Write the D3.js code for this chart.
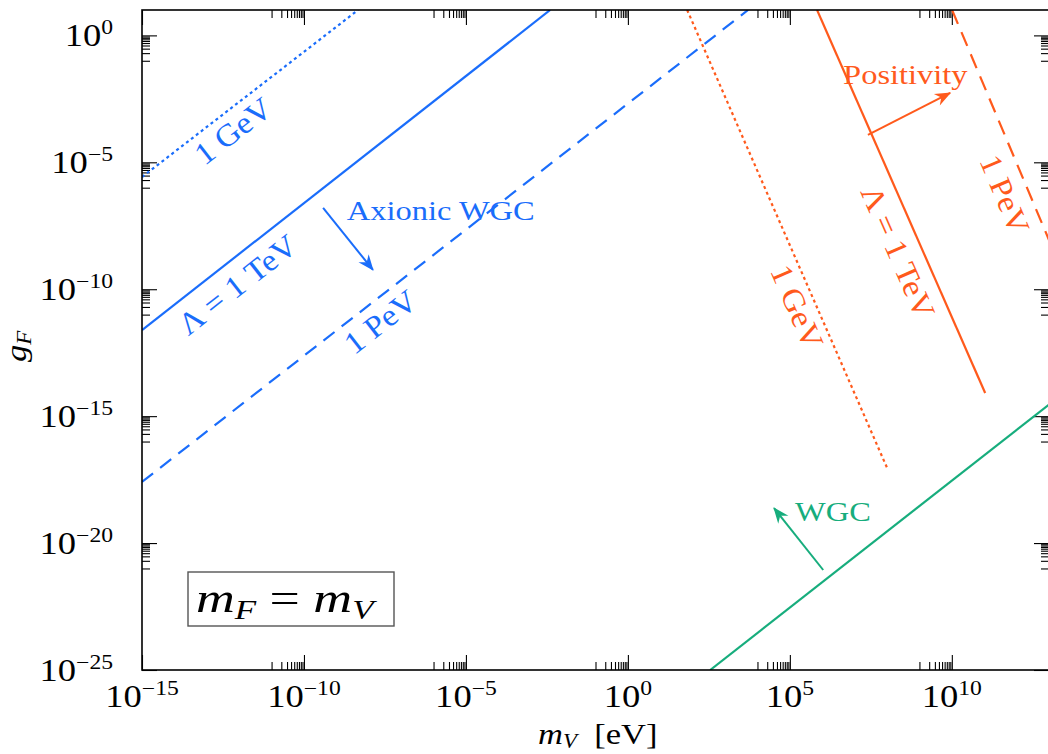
<!DOCTYPE html>
<html>
<head>
<meta charset="utf-8">
<script src="https://cdn.jsdelivr.net/npm/d3@7"></script>
<style>
  body { margin: 0; background: #fff; }
  text { font-family: "Liberation Serif", "DejaVu Serif", serif; }
</style>
</head>
<body>
<div id="chart"></div>
<script>
// axis ranges and tick exponents
var xDomain = [1e-15, 1e13];
var yDomain = [1e-25, 1e1];
var xTickExps = [-15, -10, -5, 0, 5, 10];
var yTickExps = [0, -5, -10, -15, -20, -25];

// bounds (endpoints in m_V [eV], g_F), straight lines on log-log axes
var axionicGeV = [[1e-15, 2.63e-6], [4.68e-9, 10]];
var axionicTeV = [[1e-15, 2.45e-12], [3.98e-3, 10]];
var axionicPeV = [[1e-15, 2.57e-18], [5.13e3, 10]];
var positivityGeV = [[67.6, 10], [1.07e8, 7.59e-18]];
var positivityTeV = [[6.92e5, 10], [1.07e11, 8.13e-15]];
var positivityPeV = [[1.02e10, 10], [1e13, 8.7e-9]];
var wgcLine = [[347, 1e-25], [1e13, 2.88e-15]];

// arrows showing the allowed side
var axionicArrow = [[3.9e-10, 1.6e-7], [1.35e-8, 5.75e-10]];
var positivityArrow = [[2.57e7, 1.2e-4], [8.9e9, 5.4e-3]];
var wgcArrow = [[1.07e6, 8.7e-22], [3.24e4, 2.4e-19]];

var blue = "#1a6dfb", orange = "#ff5a1c", green = "#17ad7d";

(function () {
var W = 1048, H = 754;
var pL = 142, pR = 1049, pT = 10, pB = 670;

var x = d3.scaleLog().domain(xDomain).range([pL, pR]);
var y = d3.scaleLog().domain(yDomain).range([pB, pT]);

var svg = d3.select("#chart").append("svg")
    .attr("width", W).attr("height", H);

var defs = svg.append("defs");
defs.append("clipPath").attr("id", "plot")
  .append("rect")
    .attr("x", pL).attr("y", pT)
    .attr("width", pR - pL).attr("height", pB - pT);

[["blue", blue], ["orange", orange], ["green", green]].forEach(function (c) {
  defs.append("marker")
      .attr("id", "arr-" + c[0])
      .attr("viewBox", "-16 -8 18 16")
      .attr("refX", 0).attr("refY", 0)
      .attr("markerWidth", 18).attr("markerHeight", 16)
      .attr("markerUnits", "userSpaceOnUse")
      .attr("orient", "auto")
    .append("path")
      .attr("d", "M1,0 L-15,-6.5 L-10,0 L-15,6.5 Z")
      .attr("fill", c[1]);
});

// minor ticks: k * 10^(e-1), k = 1..9
function minors(exps, dom) {
  var out = [];
  exps.forEach(function (e) {
    for (var k = 1; k <= 9; k++) {
      var v = k * Math.pow(10, e - 1);
      if (v >= dom[0] * 0.999 && v <= dom[1] * 1.001) out.push(v);
    }
  });
  return out;
}
var xMaj = xTickExps.map(function (e) { return Math.pow(10, e); });
var yMaj = yTickExps.map(function (e) { return Math.pow(10, e); });
var xMin = minors(xTickExps, xDomain);
var yMin = minors(yTickExps, yDomain);

function addAxis(axisFn, scale, vals, size, transform) {
  var g = svg.append("g")
      .attr("transform", transform)
      .call(axisFn(scale).tickValues(vals).tickSize(size).tickSizeOuter(0).tickFormat(""));
  g.select(".domain").remove();
  g.selectAll(".tick line").attr("stroke", "#000").attr("stroke-width", 1.1);
}
addAxis(d3.axisBottom, x, xMaj, -15, "translate(0," + pB + ")");
addAxis(d3.axisBottom, x, xMin, -8, "translate(0," + pB + ")");
addAxis(d3.axisTop, x, xMaj, -15, "translate(0," + pT + ")");
addAxis(d3.axisTop, x, xMin, -8, "translate(0," + pT + ")");
addAxis(d3.axisLeft, y, yMaj, -15, "translate(" + pL + ",0)");
addAxis(d3.axisLeft, y, yMin, -8, "translate(" + pL + ",0)");
addAxis(d3.axisRight, y, yMaj, -15, "translate(" + pR + ",0)");
addAxis(d3.axisRight, y, yMin, -8, "translate(" + pR + ",0)");

// power-of-ten tick labels
function powLabel(g, e, anchor) {
  var t = g.append("text").attr("text-anchor", anchor)
      .attr("font-size", 31).attr("fill", "#000");
  t.append("tspan").text("10");
  t.append("tspan").attr("dy", -12).attr("font-size", 20)
      .text(e < 0 ? "\u2212" + (-e) : String(e));
}
xTickExps.forEach(function (e) {
  var g = svg.append("g")
      .attr("transform", "translate(" + x(Math.pow(10, e)) + ",707) scale(1.18,1)");
  powLabel(g, e, "middle");
});
yTickExps.forEach(function (e) {
  var g = svg.append("g")
      .attr("transform", "translate(113," + (y(Math.pow(10, e)) + 10.5) + ") scale(1.18,1)");
  powLabel(g, e, "end");
});

// axis titles
var xt = svg.append("g").attr("transform", "translate(538,744) scale(1.15,1)")
  .append("text").attr("font-size", 30);
xt.append("tspan").attr("font-style", "italic").text("m");
xt.append("tspan").attr("font-style", "italic").attr("font-size", 20).attr("dy", 4).text("V");
xt.append("tspan").attr("dy", -4).text("\u2002[eV]");

var yt = svg.append("g").attr("transform", "translate(26,362) rotate(-90) scale(1.15,1)")
  .append("text").attr("font-size", 30);
yt.append("tspan").attr("font-style", "italic").text("g");
yt.append("tspan").attr("font-style", "italic").attr("font-size", 20).attr("dy", 5).text("F");

// curves
var plot = svg.append("g").attr("clip-path", "url(#plot)");
var line = d3.line().x(function (d) { return x(d[0]); }).y(function (d) { return y(d[1]); });

var curves = [
  { d: axionicGeV, c: blue, dash: "3,3.2" },
  { d: axionicTeV, c: blue, dash: null },
  { d: axionicPeV, c: blue, dash: "14,9" },
  { d: positivityGeV, c: orange, dash: "3,3.2" },
  { d: positivityTeV, c: orange, dash: null },
  { d: positivityPeV, c: orange, dash: "15,9" },
  { d: wgcLine, c: green, dash: null }
];
curves.forEach(function (k) {
  plot.append("path")
      .datum(k.d)
      .attr("d", line)
      .attr("fill", "none")
      .attr("stroke", k.c)
      .attr("stroke-width", 2.2)
      .attr("stroke-dasharray", k.dash);
});

// labels along lines: m on the line, offset below the text direction
function lineLabel(pts, m, txt, color, off) {
  var lx0 = Math.log10(pts[0][0]), lx1 = Math.log10(pts[1][0]);
  var ly0 = Math.log10(pts[0][1]), ly1 = Math.log10(pts[1][1]);
  var t = (Math.log10(m) - lx0) / (lx1 - lx0);
  var g = Math.pow(10, ly0 + t * (ly1 - ly0));
  var px = x(m), py = y(g);
  var dx = x(pts[1][0]) - x(pts[0][0]), dy = y(pts[1][1]) - y(pts[0][1]);
  if (dx < 0) { dx = -dx; dy = -dy; }
  var ang = Math.atan2(dy, dx);
  var cx = px - Math.sin(ang) * off, cy = py + Math.cos(ang) * off;
  svg.append("text")
      .attr("transform", "translate(" + cx + "," + cy + ") rotate(" + (ang * 180 / Math.PI) + ") scale(1.08,1)")
      .attr("text-anchor", "middle")
      .attr("dominant-baseline", "central")
      .attr("font-size", 31)
      .attr("fill", color)
      .text(txt);
}
lineLabel(axionicGeV, 2.8e-13, "1 GeV", blue, 19);
lineLabel(axionicTeV, 3.2e-13, "\u039B = 1 TeV", blue, 23);
lineLabel(axionicPeV, 9.5e-9, "1 PeV", blue, 20);
lineLabel(positivityGeV, 5.4e5, "1 GeV", orange, 18);
lineLabel(positivityTeV, 9.8e8, "\u039B = 1 TeV", orange, 23);
lineLabel(positivityPeV, 1.95e12, "1 PeV", orange, 23);

// arrows and their captions
[[axionicArrow, "blue", blue], [positivityArrow, "orange", orange], [wgcArrow, "green", green]]
  .forEach(function (a) {
    svg.append("path")
        .datum(a[0])
        .attr("d", line)
        .attr("stroke", a[2])
        .attr("stroke-width", 2)
        .attr("fill", "none")
        .attr("marker-end", "url(#arr-" + a[1] + ")");
  });

function caption(m, g, txt, color) {
  svg.append("g")
      .attr("transform", "translate(" + x(m) + "," + y(g) + ") scale(1.16,1)")
    .append("text")
      .attr("font-size", 28)
      .attr("fill", color)
      .text(txt);
}
caption(2.1e-9, 5.4e-8, "Axionic WGC", blue);
caption(4.4e6, 1.2e-2, "Positivity", orange);
caption(1.45e5, 7.4e-20, "WGC", green);

// frame
svg.append("rect")
    .attr("x", pL).attr("y", pT)
    .attr("width", pR - pL).attr("height", pB - pT)
    .attr("fill", "none").attr("stroke", "#000").attr("stroke-width", 1.6);

// m_F = m_V box
svg.append("rect")
    .attr("x", 188).attr("y", 572).attr("width", 206).attr("height", 54)
    .attr("fill", "#fff").attr("stroke", "#555").attr("stroke-width", 1.4);
var bt = svg.append("g").attr("transform", "translate(196,612) scale(1.25,1)")
  .append("text").attr("font-size", 43);
bt.append("tspan").attr("font-style", "italic").text("m");
bt.append("tspan").attr("font-style", "italic").attr("font-size", 28).attr("dy", 7).text("F");
bt.append("tspan").attr("dy", -7).text(" = ");
bt.append("tspan").attr("font-style", "italic").text("m");
bt.append("tspan").attr("font-style", "italic").attr("font-size", 28).attr("dy", 7).text("V");
})();
</script>
</body>
</html>
